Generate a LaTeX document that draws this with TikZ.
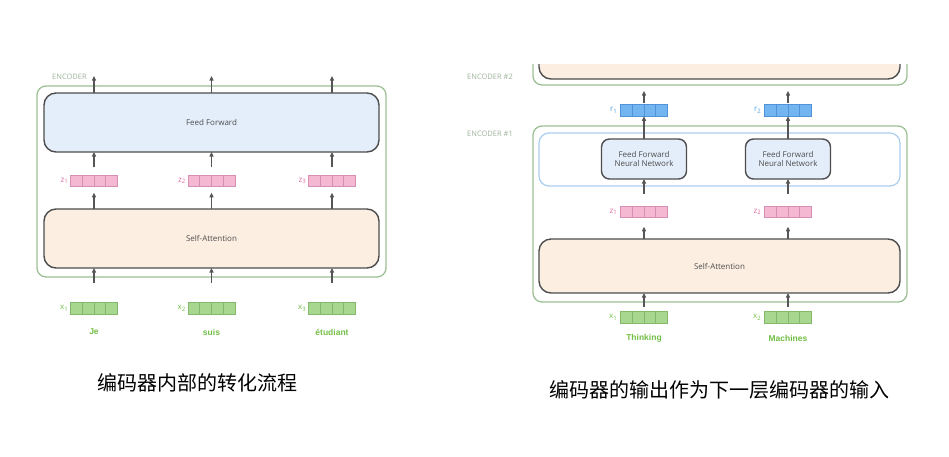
\documentclass[tikz,border=0pt]{standalone}
\usepackage{fontspec}
\setsansfont{Open Sans}
\newfontfamily\wordfont{Liberation Sans}
\newfontfamily\cjk{Noto Sans CJK SC}
\usetikzlibrary{positioning,calc,arrows.meta}

\definecolor{encgreen}{HTML}{9CBF95}
\definecolor{enclab}{HTML}{9DB29A}
\definecolor{boxline}{HTML}{4D4D4D}
\definecolor{fffill}{HTML}{E4EEFB}
\definecolor{safill}{HTML}{FDEEE2}
\definecolor{ringblue}{HTML}{A9CDEE}
\definecolor{zfill}{HTML}{F5B8D3}
\definecolor{zline}{HTML}{D58FB2}
\definecolor{zlab}{HTML}{E06AA0}
\definecolor{xfill}{HTML}{A8D890}
\definecolor{xline}{HTML}{82B86A}
\definecolor{xlab}{HTML}{72BE45}
\definecolor{rfill}{HTML}{72B5F0}
\definecolor{rline}{HTML}{4F93D8}
\definecolor{rlab}{HTML}{4C9EE3}
\definecolor{arrowgray}{HTML}{555555}

% word vector: name, centre, fill, line
\newcommand{\wordvec}[4]{%
  \node[vecbox, fill=#3, draw=#4] (#1) at #2 {};
  \foreach \k in {1,2,3}
    \draw[#4, line width=0.6pt] ($(#1.north west)!\k/4!(#1.north east)$) -- ($(#1.south west)!\k/4!(#1.south east)$);
}

\begin{document}
\begin{tikzpicture}[x=1pt,y=-1pt,
    encbox/.style={draw=encgreen, line width=1.3pt, rounded corners=9pt, inner sep=0pt, outer sep=0pt},
    layer/.style={draw=boxline, line width=1.4pt, rounded corners=12pt, inner sep=0pt, outer sep=0pt, font=\sffamily\fontsize{8}{9.5}\selectfont, text=boxline},
    vecbox/.style={minimum width=47pt, minimum height=11.5pt, inner sep=0pt, outer sep=0pt, line width=0.7pt},
    veclab/.style={font=\sffamily\fontsize{8}{9}\selectfont, inner sep=0pt},
    word/.style={font=\wordfont\bfseries\fontsize{8.5}{10}\selectfont, text=xlab},
    enctag/.style={font=\sffamily\fontsize{7.5}{9}\selectfont, text=enclab},
    flow/.style={-{Triangle[length=4.5pt,width=4pt]}, draw=arrowgray, line width=1.2pt},
    caption/.style={font=\cjk\fontsize{20}{24}\selectfont}]
  \useasboundingbox (0,0) rectangle (949,456);

  % ---- left: one encoder ----
  \node[encbox, minimum width=349pt, minimum height=191pt] (enc) at (211.5,181.5) {};
  \node[enctag] (enctag) at (69.5,77) {ENCODER};
  \node[layer, fill=fffill, minimum width=335pt, minimum height=59pt] (ff) at (211.5,122.5) {Feed Forward};
  \node[layer, fill=safill, minimum width=335pt, minimum height=59pt] (sa) at (211.5,238.5) {Self-Attention};
  \foreach \i/\cx/\w in {1/94/Je, 2/211.5/suis, 3/332/étudiant}{
    \wordvec{x\i}{(\cx,308.5)}{xfill}{xline}
    \wordvec{z\i}{(\cx,181)}{zfill}{zline}
    \node[veclab, text=xlab, left=2pt of x\i] (lx\i) {x\textsubscript{\i}};
    \node[veclab, text=zlab, left=2pt of z\i] (lz\i) {z\textsubscript{\i}};
    \node[word] (w\i) at (\cx,332) {\w};
    \coordinate (o\i) at (\cx,76);
    % Arrows up through the encoder
    \draw[flow, shorten <=20pt] (x\i.north) -- (x\i.north |- sa.south);
    \draw[flow, shorten >=6pt] (z\i.south |- sa.north) -- (z\i.south);
    \draw[flow, shorten <=8pt] (z\i.north) -- (z\i.north |- ff.south);
    \draw[flow] (o\i |- ff.north) -- (o\i);
  }

  % ---- right: encoder #1 feeding encoder #2 ----
  \begin{scope}
    \clip (520,64.5) rectangle (920,100);
    \node[encbox, minimum width=374pt, minimum height=45pt] (enc2) at (720,62.5) {};
    \node[layer, fill=safill, minimum width=361pt, minimum height=39pt] (sa2) at (719.5,59.5) {};
  \end{scope}
  \node[enctag] (tag2) at (490,77) {ENCODER \#2};
  \node[enctag] (tag1) at (490,134) {ENCODER \#1};
  \node[encbox, minimum width=374pt, minimum height=176pt] (enc1) at (720,214) {};
  \node[draw=ringblue, line width=1.2pt, rounded corners=10pt, minimum width=361pt, minimum height=53pt] (ring) at (719.5,159.5) {};
  \node[layer, fill=safill, minimum width=361pt, minimum height=54pt] (sab) at (719.5,266) {Self-Attention};
  \foreach \i/\cx/\w in {1/644/Thinking, 2/788/Machines}{
    \node[layer, fill=fffill, rounded corners=8pt, minimum width=85pt, minimum height=40pt, align=center] (ffn\i) at (\cx,159) {Feed Forward\\Neural Network};
    \wordvec{xb\i}{(\cx,317.5)}{xfill}{xline}
    \wordvec{zb\i}{(\cx,212)}{zfill}{zline}
    \wordvec{r\i}{(\cx,110.5)}{rfill}{rline}
    \node[veclab, text=xlab, left=3pt of xb\i] (lxb\i) {x\textsubscript{\i}};
    \node[veclab, text=zlab, left=3pt of zb\i] (lzb\i) {z\textsubscript{\i}};
    \node[veclab, text=rlab, left=3pt of r\i] (lr\i) {r\textsubscript{\i}};
    \node[word] (wb\i) at (\cx,338) {\w};
    % Arrows up through encoder #1
    \draw[flow, shorten <=5pt] (xb\i.north) -- (xb\i.north |- sab.south);
    \draw[flow, shorten >=9pt] (zb\i.south |- sab.north) -- (zb\i.south);
    \draw[flow, shorten <=12pt] (zb\i.north) -- (ffn\i.south);
    \draw[flow] (ffn\i.north) -- (r\i.south);
    \draw[flow, shorten <=2pt, shorten >=6pt] (r\i.north) -- (r\i.north |- enc2.south);
  }

  % Captions
  \node[caption] (cap1) at (197,383) {编码器内部的转化流程};
  \node[caption] (cap2) at (719,390) {编码器的输出作为下一层编码器的输入};
\end{tikzpicture}
\end{document}
